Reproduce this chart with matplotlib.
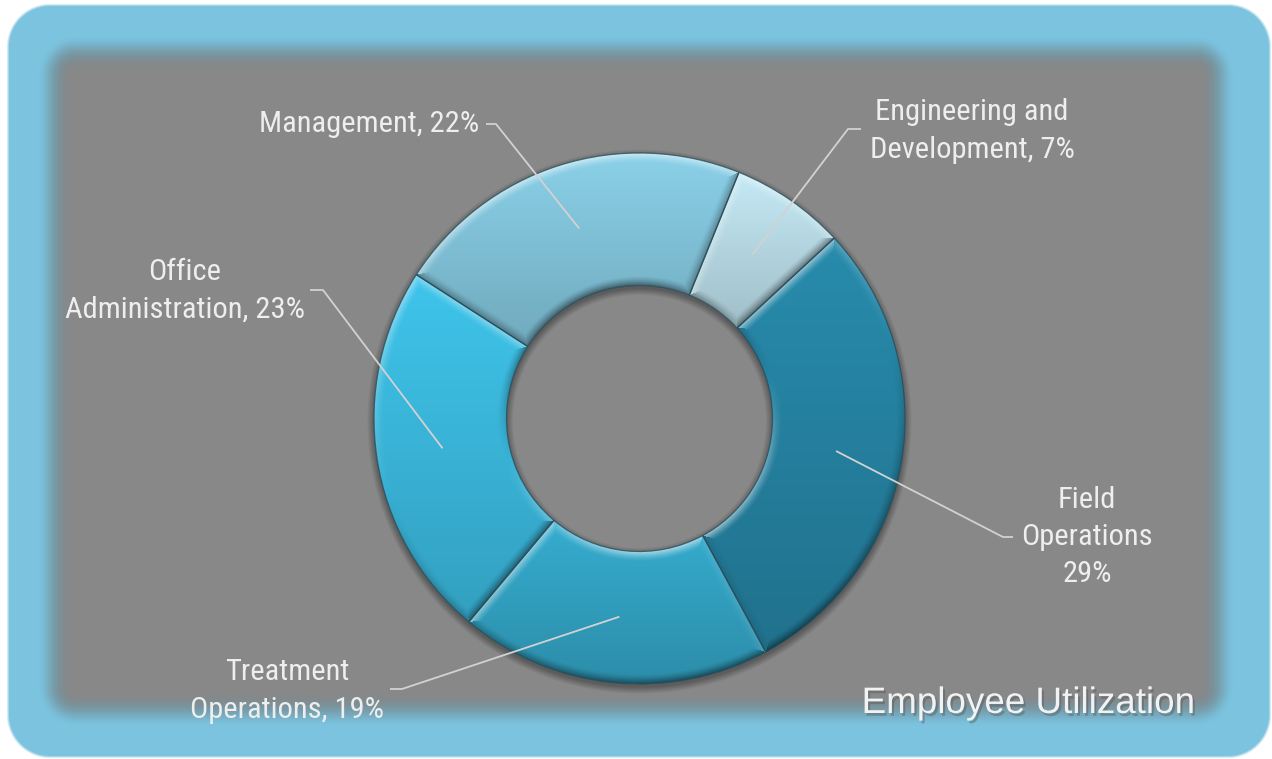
import numpy as np
import matplotlib.pyplot as plt
import matplotlib.patheffects as pe
from matplotlib.patches import Wedge
from matplotlib import font_manager

W, H = 1272, 759

# employee utilization shares, clockwise from the top
categories = ['Engineering and\nDevelopment', 'Field\nOperations', 'Treatment\nOperations',
              'Office\nAdministration', 'Management']
shares = [7, 29, 19, 23, 22]
separators = [', ', '\n', ', ', ', ', ', ']
slice_colors = ['#b6d8e3', '#2581a0', '#32a0c0', '#3ab6da', '#80c1d7']

# label layout in pixel coords: text centre, leader elbow, leader end
label_xy = [(972, 131), (1087, 537), (287, 691), (185, 291), (369, 124)]
elbow_xy = [(848, 129), (1003, 537), (402, 689), (323, 290), (496, 124)]
end_xy = [(861, 129), (1013, 537), (390, 689), (310, 290), (486, 124)]

cx, cy = 639.5, H - 418.5
R, r0 = 265.5, 133.0

# prefer a narrow sans for the labels
label_font = 'Liberation Sans'
for f in font_manager.fontManager.ttflist:
    if f.name in ('Liberation Sans Narrow', 'Roboto Condensed', 'Open Sans Condensed') \
            and f.weight in (400, 'normal', 'regular') and f.style == 'normal':
        label_font = f.name
        break


def box_depth(X, Y, x0, x1, y0, y1, rad):
    # distance inside a rounded rectangle (negative outside)
    qx = np.abs(X - (x0 + x1) / 2) - ((x1 - x0) / 2 - rad)
    qy = np.abs(Y - (y0 + y1) / 2) - ((y1 - y0) / 2 - rad)
    d = np.hypot(np.maximum(qx, 0), np.maximum(qy, 0)) + np.minimum(np.maximum(qx, qy), 0) - rad
    return -d


def rgb(c):
    c = c.lstrip('#')
    return np.array([int(c[i:i + 2], 16) for i in (0, 2, 4)]) / 255.0


fig = plt.figure(figsize=(W / 100, H / 100), dpi=100)
ax = fig.add_axes([0, 0, 1, 1])

# background: blue rounded frame with soft grey panel
PX, PY = np.meshgrid(np.arange(W) + 0.5, np.arange(H) + 0.5)
blue = rgb('#7bc3de')
grey = rgb('#888888')
frame_a = np.clip(box_depth(PX, PY, 8, 1270, 5, 757, 42) / 3.0 + 0.5, 0, 1)
t = np.clip(box_depth(PX, PY, 38, 1234, 36, 726, 38) / 34.0, 0, 1)
t = t * t * (3 - 2 * t)
bg = blue[None, None, :] * (1 - t[..., None]) + grey[None, None, :] * t[..., None]
bg *= (1 - 0.07 * 4 * t * (1 - t))[..., None]
bg = bg * frame_a[..., None] + (1 - frame_a[..., None])
ax.imshow(bg, extent=(0, W, 0, H), origin='upper', interpolation='nearest', zorder=0)

wedges, _ = ax.pie(shares, colors=slice_colors, radius=R, center=(cx, cy), startangle=68,
                   counterclock=False, wedgeprops=dict(width=R - r0, edgecolor='none'))
for w in wedges:
    w.set_zorder(2)

# soft shadow under the ring
ext = R + 14
X, Y = np.meshgrid(np.arange(cx - ext, cx + ext) + 0.5, np.arange(cy - ext, cy + ext) + 0.5)
rs = np.hypot(X - cx, Y - (cy - 3))
dout = np.maximum(rs - R, r0 - rs)
shadow = np.zeros(X.shape + (4,))
shadow[..., 3] = 0.32 * np.clip(1 - dout / 7.0, 0, 1)
ax.imshow(shadow, extent=(cx - ext, cx + ext, cy - ext, cy + ext), origin='lower',
          interpolation='bilinear', zorder=1)

# bevelled shading for each slice
dx, dy = X - cx, Y - cy
rr = np.hypot(dx, dy)
phi = np.degrees(np.arctan2(dy, dx))
ux, uy = dx / np.maximum(rr, 1e-6), dy / np.maximum(rr, 1e-6)
L = np.array([-0.3, 0.95])
L = L / np.hypot(*L)
bev = 10.0
for w, col in zip(wedges, slice_colors):
    t1, t2 = w.theta1, w.theta2
    span = t2 - t1
    a = np.mod(phi - t1, 360)
    inside = (a < span) & (rr >= r0) & (rr <= R)
    ytop, ybot = Y[inside].max(), Y[inside].min()
    d1 = np.where(a < 90, rr * np.sin(np.radians(a)), 1e9)
    d2 = np.where(span - a < 90, rr * np.sin(np.radians(np.clip(span - a, 0, 360))), 1e9)
    dists = np.stack([R - rr, rr - r0, d1, d2])
    s1, c1 = np.sin(np.radians(t1)), np.cos(np.radians(t1))
    s2, c2 = np.sin(np.radians(t2)), np.cos(np.radians(t2))
    nl = np.stack([ux * L[0] + uy * L[1],
                   -(ux * L[0] + uy * L[1]),
                   np.full_like(rr, s1 * L[0] - c1 * L[1]),
                   np.full_like(rr, -s2 * L[0] + c2 * L[1])])
    k = np.argmin(dists, axis=0)
    d = np.take_along_axis(dists, k[None], 0)[0]
    ndl = np.take_along_axis(nl, k[None], 0)[0]
    s = np.clip(1 - d / bev, 0, 1) ** 1.4
    shade = ndl * s
    # lighter at the top of each slice, darker at its bottom
    g = 0.88 + 0.20 * np.clip((Y - ybot) / (ytop - ybot), 0, 1)
    base = np.clip(rgb(col)[None, None, :] * g[..., None], 0, 1)
    img = np.where(shade[..., None] > 0,
                   base + (1 - base) * (0.6 * shade)[..., None],
                   base * (1 + 0.5 * shade)[..., None])
    im = ax.imshow(np.clip(img, 0, 1), extent=(cx - ext, cx + ext, cy - ext, cy + ext),
                   origin='lower', interpolation='bilinear', zorder=3)
    im.set_clip_path(w)
    ax.add_patch(Wedge(w.center, w.r, t1, t2, width=w.width, fill=False,
                       edgecolor='#2b4c58', linewidth=0.9, alpha=0.8, zorder=4))

# size the labels so the single-line one spans about 218 px
probe = ax.text(0, 0, 'Management, 22%', fontsize=23, family=label_font)
fig.canvas.draw()
pw = probe.get_window_extent().width
probe.remove()
label_size = 23 * (218 / pw) ** 0.8
label_gap = 1.35 * 23 / label_size if pw > 230 else 1.07

for w, name, val, sep, lab, elb, end in zip(wedges, categories, shares, separators,
                                            label_xy, elbow_xy, end_xy):
    mid = np.radians((w.theta1 + w.theta2) / 2)
    rm = (R + r0) / 2
    sx, sy = cx + rm * np.cos(mid), cy + rm * np.sin(mid)
    ax.plot([sx, elb[0], end[0]], [sy, H - elb[1], H - end[1]], color='#d2d2d2',
            linewidth=1.3, zorder=5, solid_capstyle='butt')
    ax.text(lab[0], H - lab[1], f'{name}{sep}{val}%', ha='center', va='center',
            multialignment='center', fontsize=label_size, color='#eeeeee', family=label_font,
            linespacing=label_gap, zorder=6)

ax.text(1028, H - 713, 'Employee Utilization', ha='center', va='baseline', fontsize=26.5,
        color='#f2f2f2', family='Liberation Sans', zorder=6,
        path_effects=[pe.SimplePatchShadow(offset=(1.5, -2), alpha=0.35), pe.Normal()])

ax.set_xlim(0, W)
ax.set_ylim(0, H)
ax.set_aspect('equal')
ax.axis('off')
fig.savefig('out.png', dpi=100)
